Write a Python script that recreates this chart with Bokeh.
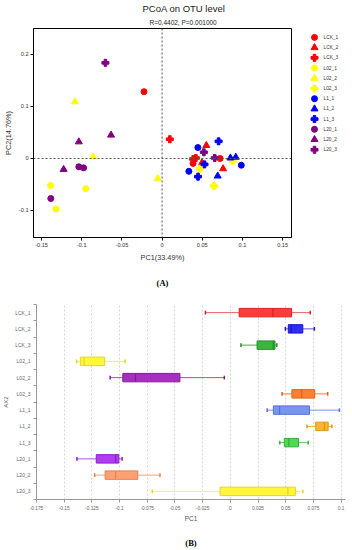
import numpy as np
from bokeh.plotting import figure
from bokeh.models import (ColumnDataSource, Range1d, FixedTicker, CustomJSTickFormatter,
                          Span, Title, LinearAxis)
from bokeh.core.properties import value
from bokeh.layouts import column, row
from bokeh.embed import file_html
from bokeh.resources import INLINE

# ---------------- data ----------------
groups = ["LCK_1", "LCK_2", "LCK_3", "L02_1", "L02_2", "L02_3",
          "L1_1", "L1_2", "L1_3", "L20_1", "L20_2", "L20_3"]
group_colors = ["#FF0000"] * 3 + ["#FFFF00"] * 3 + ["#0000FF"] * 3 + ["#800080"] * 3
group_markers = ["circle", "triangle", "plus"] * 4

sample_group = [g for g in groups for _ in range(3)]
pc1 = [-0.0225, 0.0385, 0.0722,
       0.0497, 0.0550, 0.0759,
       0.0096, 0.0387, 0.0420,
       -0.1388, -0.1320, -0.0950,
       -0.1085, -0.0856, -0.0054,
       0.0467, 0.0645, 0.0879,
       0.0333, 0.0445, 0.0985,
       0.0692, 0.0850, 0.0917,
       0.0447, 0.0528, 0.0703,
       -0.1385, -0.1036, -0.0977,
       -0.1225, -0.1036, -0.0635,
       -0.0705, 0.0520, 0.0655]
pc2 = [0.1285, -0.0095, 0.0000,
       -0.0080, 0.0250, -0.0198,
       0.0370, -0.0010, 0.0010,
       -0.0520, -0.0970, -0.0580,
       0.1090, 0.0030, -0.0388,
       -0.0198, -0.0530, -0.0050,
       -0.0247, 0.0210, -0.0130,
       -0.0337, 0.0010, 0.0025,
       -0.0350, -0.0114, 0.0330,
       -0.0770, -0.0160, -0.0180,
       -0.0210, 0.0320, 0.0450,
       0.1840, 0.0120, 0.0010]

x_ticks_a = [-0.15, -0.1, -0.05, 0, 0.05, 0.1, 0.15]
y_ticks_a = [-0.1, 0, 0.1, 0.2]
x_ticks_b = [-0.175, -0.15, -0.125, -0.1, -0.075, -0.05, -0.025, 0, 0.025, 0.05, 0.075, 0.1]

box_fill = ["#FF3B3B", "#2D2DF5", "#3DB53D", "#FFF833", "#A62FC0", "#FF8033",
            "#7895F0", "#FFB52E", "#4FD94F", "#B23CF0", "#FFA072", "#FFF53A"]
box_line = ["#D92020", "#1A1AC8", "#268F26", "#E0D820", "#7D1E93", "#E0601A",
            "#5573D6", "#E09510", "#33B033", "#8A1FC8", "#E88050", "#E6D620"]
whisk_col = ["#E86060", "#5555E0", "#4DA64D", "#F2EC70", "#A64DBF", "#F07A40",
             "#7A90E0", "#F0B040", "#5ACC5A", "#A855E0", "#F0A080", "#F2EA8A"]

num_fmt = CustomJSTickFormatter(code="return String(Number(tick.toFixed(4)));")
FONT = "Liberation Sans"

def marker_size(m):
    return 6 if m == "circle" else 7

def panel_label_axis(text, standoff):
    # an axis without ticks that only carries the panel letter as its label
    return LinearAxis(ticker=FixedTicker(ticks=[]), axis_label=text,
                      axis_line_color=None, major_tick_line_color=None, minor_tick_line_color=None,
                      major_tick_out=0, minor_tick_out=0, major_label_standoff=0,
                      axis_label_standoff=standoff, axis_label_text_font="Liberation Serif",
                      axis_label_text_font_size="8.5px", axis_label_text_font_style="bold",
                      axis_label_text_color="black")

# ---------------- (A) PCoA scatter ----------------
BT, BB = 25, 53
PH = 290
p = figure(width=292, height=PH, x_range=Range1d(-0.16, 0.161), y_range=Range1d(-0.152, 0.25),
           output_backend="svg", toolbar_location=None, title_location=None,
           min_border_left=30, min_border_right=1, min_border_top=BT, min_border_bottom=BB)
p.outline_line_color = "black"
p.outline_line_width = 1
p.grid.visible = False
for ax in (p.xaxis[0], p.yaxis[0]):
    ax.formatter = num_fmt
    ax.major_tick_in = 0
    ax.major_tick_out = 3
    ax.minor_tick_out = 0
    ax.minor_tick_in = 0
    ax.axis_line_color = "black"
    ax.major_tick_line_color = "black"
    ax.major_label_text_font = FONT
    ax.major_label_text_font_size = "5.6px"
    ax.major_label_text_color = "#333333"
    ax.major_label_standoff = 2
    ax.axis_label_text_font = FONT
    ax.axis_label_text_font_size = "7.3px"
    ax.axis_label_text_font_style = "normal"
    ax.axis_label_text_color = "#333333"
    ax.axis_label_standoff = 3
p.xaxis.ticker = FixedTicker(ticks=x_ticks_a)
p.yaxis.ticker = FixedTicker(ticks=y_ticks_a)
p.xaxis.axis_label = "PC1(33.49%)"
p.yaxis.axis_label = "PC2(14.76%)"

p.add_layout(Span(location=0, dimension="height", line_dash="2 2", line_color="#555555", line_width=1))
p.add_layout(Span(location=0, dimension="width", line_dash="2 2", line_color="#555555", line_width=1))

for g, c, m in zip(groups, group_colors, group_markers):
    xs = [x for x, gg in zip(pc1, sample_group) if gg == g]
    ys = [y for y, gg in zip(pc2, sample_group) if gg == g]
    src = ColumnDataSource(dict(x=xs, y=ys))
    p.scatter("x", "y", source=src, marker=m, size=marker_size(m), fill_color=c, line_color=c)

p.add_layout(Title(text="R=0.4402, P=0.001000", align="left", offset=116, text_font=FONT,
                   text_font_size="6.5px", text_font_style="normal", text_color="#222222",
                   standoff=6), "above")
p.add_layout(Title(text="PCoA on OTU level", align="left", offset=109, text_font=FONT,
                   text_font_size="9.5px", text_font_style="normal", text_color="#222222",
                   standoff=0), "above")
p.add_layout(panel_label_axis("(A)", 13), "below")

# ---------------- legend panel for (A) ----------------
leg_src = ColumnDataSource(dict(g=groups, i=list(range(len(groups))), c=group_colors,
                                m=group_markers, s=[marker_size(m) for m in group_markers]))
lf = figure(width=60, height=PH, x_range=Range1d(0, 60), y_range=Range1d(19.59, -0.87),
            output_backend="svg", toolbar_location=None, title_location=None,
            x_axis_location=None, y_axis_location=None,
            min_border_left=0, min_border_right=0, min_border_top=BT, min_border_bottom=BB)
lf.outline_line_color = None
lf.grid.visible = False
lf.scatter(x=22, y="i", source=leg_src, marker="m", size="s", fill_color="c", line_color="c")
lf.text(x=31, y="i", text="g", source=leg_src, text_font=value(FONT), text_font_size="4.8px",
        text_color="#333333", text_baseline="middle", text_align="left")

# ---------------- (B) box plot of PC1 ----------------
n = len(groups)
ypos = [n - i for i in range(n)]
q1s, meds, q3s, mins, maxs = [], [], [], [], []
for g in groups:
    vals = np.array([x for x, gg in zip(pc1, sample_group) if gg == g])
    a, b_, c_ = np.percentile(vals, [25, 50, 75])
    q1s.append(a); meds.append(b_); q3s.append(c_)
    mins.append(vals.min()); maxs.append(vals.max())

bsrc = ColumnDataSource(dict(y=ypos, q1=q1s, med=meds, q3=q3s, lo=mins, hi=maxs,
                             fill=box_fill, line=box_line, wc=whisk_col,
                             y_top=[y + 0.26 for y in ypos], y_bot=[y - 0.26 for y in ypos],
                             c_top=[y + 0.12 for y in ypos], c_bot=[y - 0.12 for y in ypos]))

b = figure(width=352, height=260, x_range=Range1d(-0.175, 0.104), y_range=Range1d(0.5, 12.5),
           output_backend="svg", toolbar_location=None, title_location=None,
           min_border_left=33, min_border_right=7, min_border_top=14, min_border_bottom=51)
b.outline_line_color = None
b.ygrid.visible = False
b.xgrid.ticker = FixedTicker(ticks=x_ticks_b)
b.xgrid.grid_line_dash = "2 2"
b.xgrid.grid_line_color = "#d4d4d4"

b.xaxis.ticker = FixedTicker(ticks=x_ticks_b)
b.xaxis.formatter = num_fmt
b.yaxis.ticker = FixedTicker(ticks=ypos, minor_ticks=[k + 0.5 for k in range(n + 1)])
b.yaxis.formatter = CustomJSTickFormatter(args=dict(labels=groups, n=n),
                                          code="const i = Math.round(n - tick); return (i >= 0 && i < labels.length) ? labels[i] : '';")
for ax in (b.xaxis[0], b.yaxis[0]):
    ax.axis_line_color = "#999999"
    ax.major_tick_line_color = "#999999"
    ax.minor_tick_line_color = "#999999"
    ax.major_tick_in = 0
    ax.minor_tick_in = 0
    ax.major_label_text_font = FONT
    ax.major_label_text_color = "#666666"
    ax.major_label_standoff = 3
    ax.axis_label_text_font = FONT
    ax.axis_label_text_font_style = "normal"
    ax.axis_label_text_color = "#555555"
b.xaxis.major_label_text_font_size = "4.8px"
b.yaxis.major_label_text_font_size = "5px"
b.xaxis.major_tick_out = 3
b.xaxis.minor_tick_out = 0
b.yaxis.major_tick_out = 0
b.yaxis.minor_tick_out = 3
b.xaxis.axis_label = "PC1"
b.xaxis.axis_label_text_font_size = "6.5px"
b.xaxis.axis_label_standoff = 2
b.yaxis.axis_label = "AX2"
b.yaxis.axis_label_text_font_size = "6px"
b.yaxis.axis_label_standoff = 3

b.segment(x0="lo", x1="q1", y0="y", y1="y", line_color="wc", line_width=1, source=bsrc)
b.segment(x0="q3", x1="hi", y0="y", y1="y", line_color="wc", line_width=1, source=bsrc)
b.segment(x0="lo", x1="lo", y0="c_bot", y1="c_top", line_color="line", line_width=1.5, source=bsrc)
b.segment(x0="hi", x1="hi", y0="c_bot", y1="c_top", line_color="line", line_width=1.5, source=bsrc)
b.hbar(y="y", left="q1", right="q3", height=0.52, fill_color="fill", line_color="line",
       line_width=1, source=bsrc)
b.segment(x0="med", x1="med", y0="y_bot", y1="y_top", line_color="line", line_width=1.2, source=bsrc)

b.add_layout(panel_label_axis("(B)", 13), "below")

layout = column(row(p, lf, spacing=0), b, spacing=0)
open("out.html", "w").write(file_html(layout, INLINE))
